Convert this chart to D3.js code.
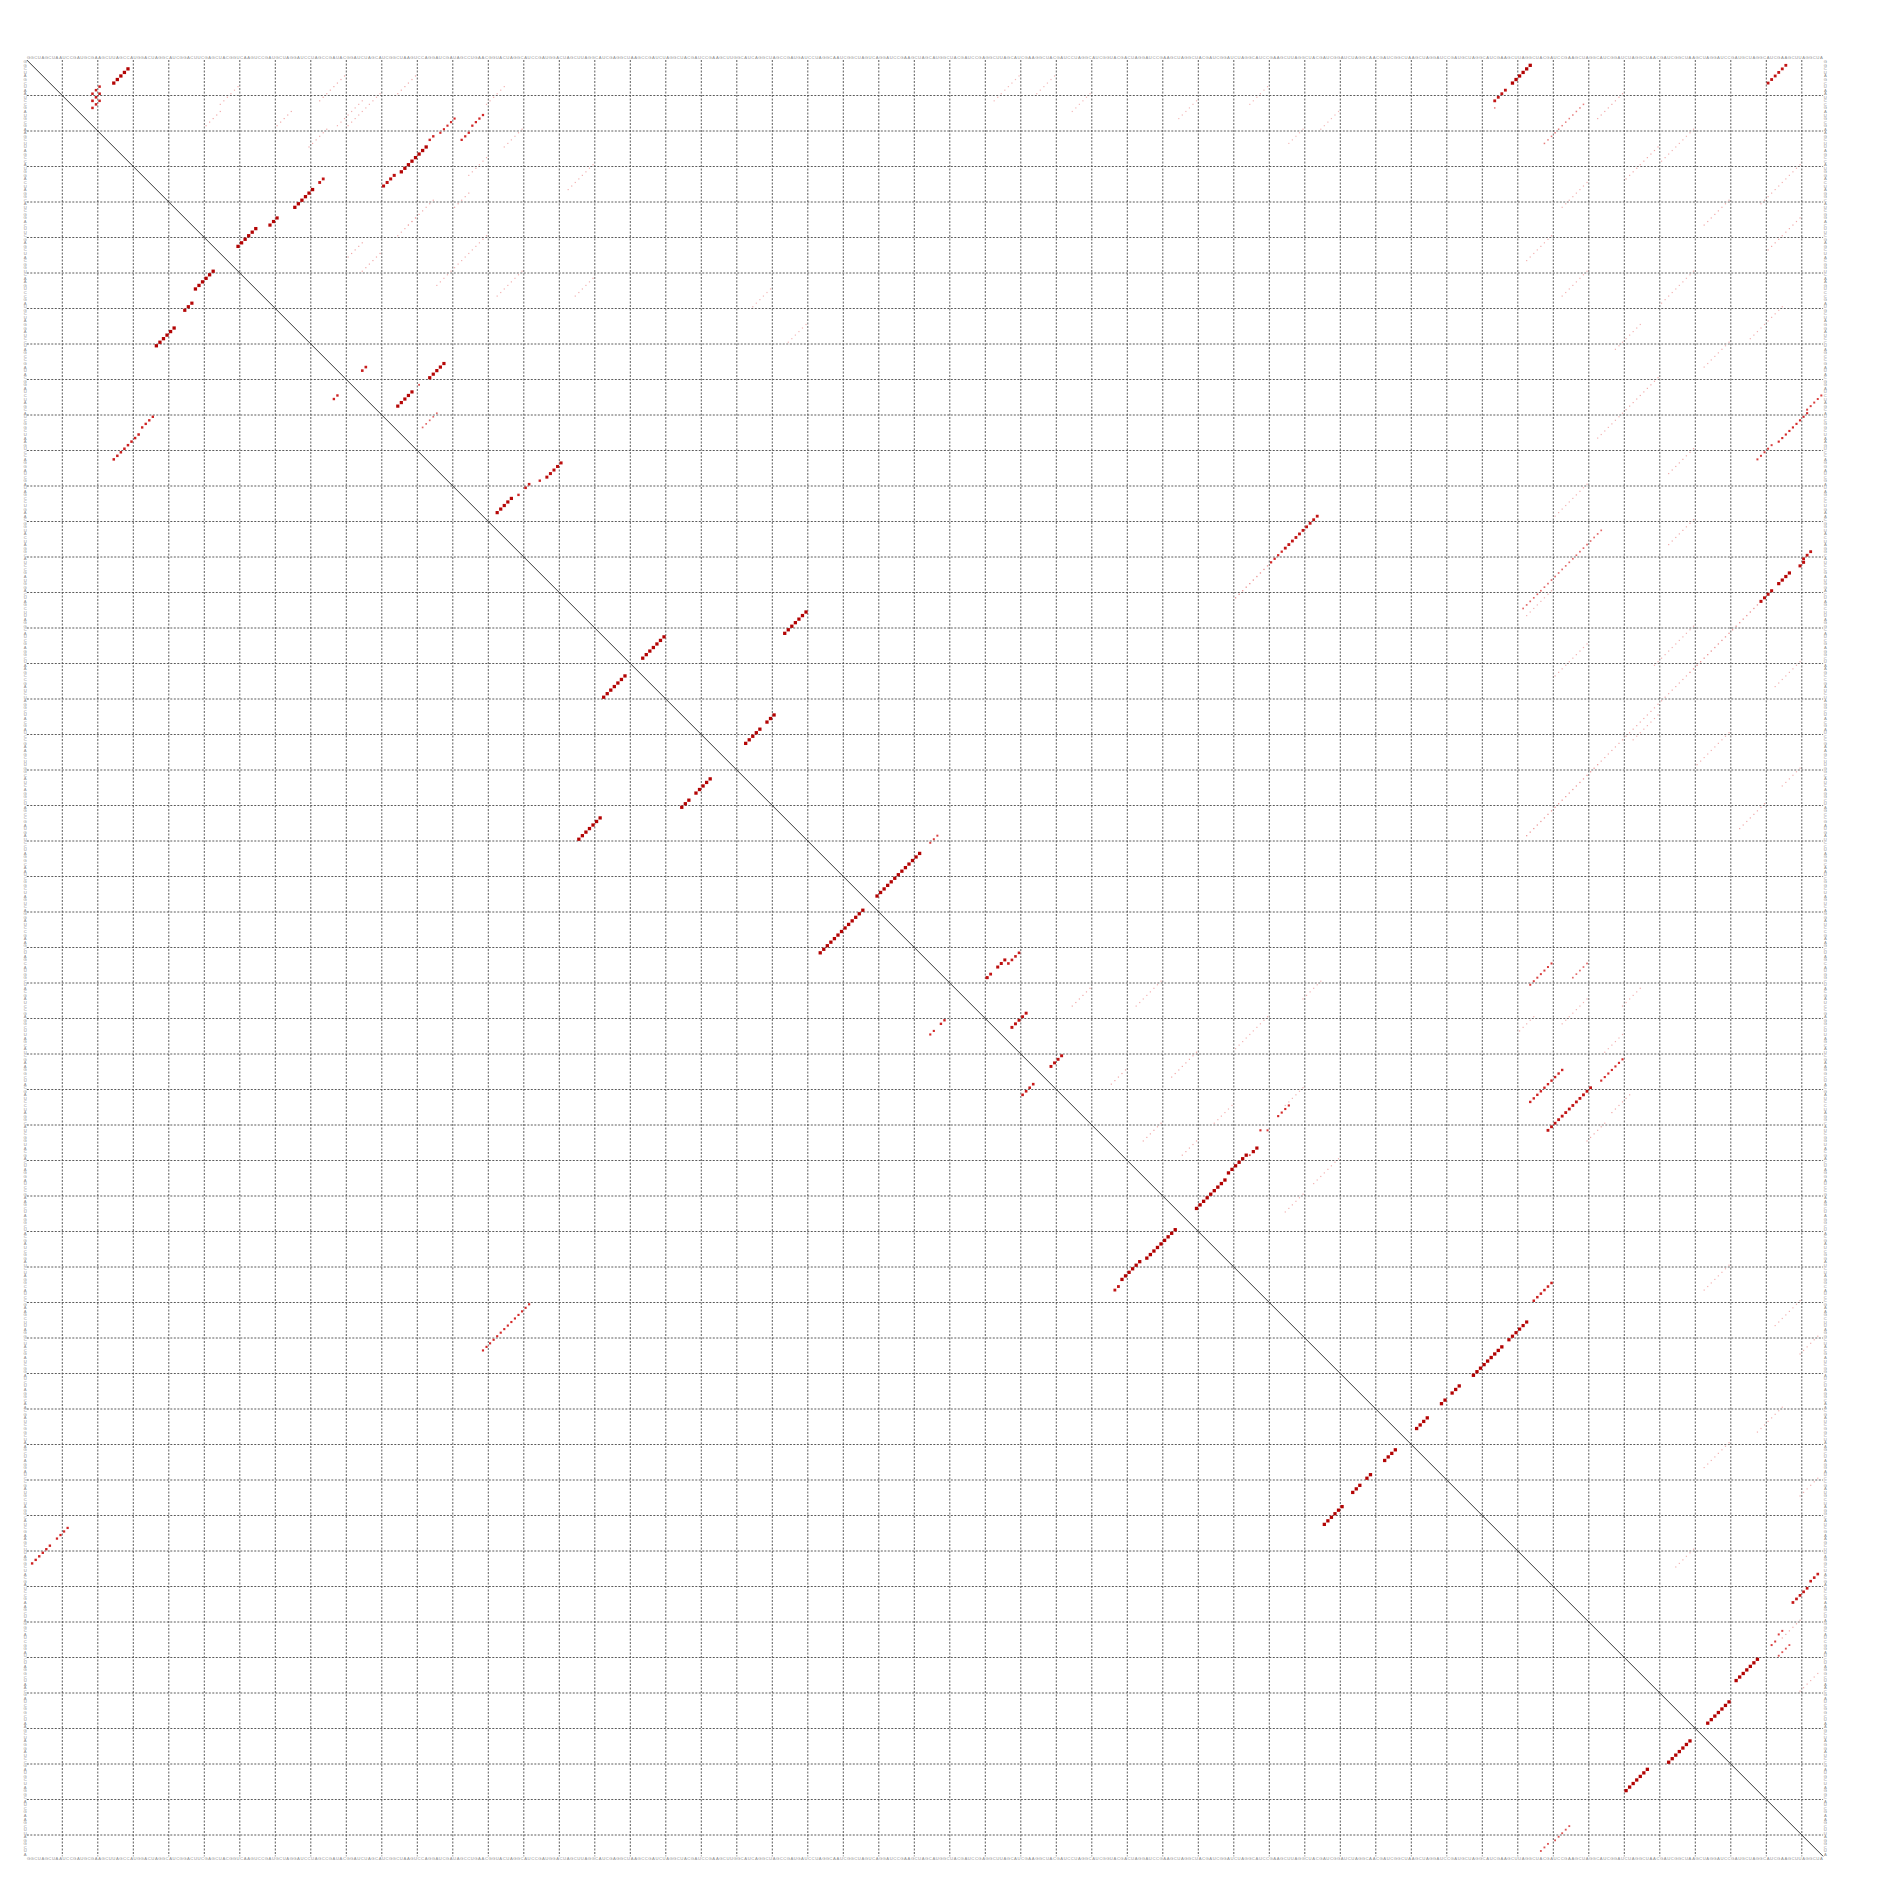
<!DOCTYPE html>
<html><head><meta charset="utf-8">
<script src="https://cdn.jsdelivr.net/npm/d3@7"></script>
<style>body{margin:0;background:#fff}svg{display:block}</style>
</head><body>
<script>
// ---------------- data ----------------
const seqLength = 506;
const sequence =
 "GGCUAGCUAAUCCGAUGCGAAGCUUAGCCAUGGACUAGGCAUCGGACUUCGAGCUACGGUCAAGUCCGAUGCUAGGAUCC" +
 "UAGCCGAUACGGAUCUAGCAUCGGCUAAGUCCAGGAUCGAUAGCCUGAACGGUACUAGGCAUCCGAUGGACUAGCUUAGG" +
 "CAUCGAGGCUAAGCCGAUCUAGGCUACGAUCCGAAGCUUGGCAUCAGGCUAGCCGAUGAUCCUAGGCAAUCGGCUAGUCA" +
 "GGAUCCGAAGCUAGCAUGGCUACGAUCCGAGGCUUAGCAUCGAAGGCUACGAUCCUAGGCAUCGGUACGACUAGGAUCCG" +
 "AAGCUAGGCUACGAUCGGAUCUAGGCAUCCGAAGCUUAGGCUACGAUCGGAUCUAGGCAACGAUCGGCUAAGCUAGGAUC" +
 "CGAUGCUAGGCAUCGAAGCUUAGGCUACGAUCCGAAGCUAGGCAUCGGAUCUAGGCUAACGAUCGGCUAAGCUAGGAUCC" +
 "GAUGCUAGGCAUCGAAGCUUAGGCUA";
const gridStep = 10;

// helices: [i, j, length, probability] -> pairs (i+k, j-k)
const upperHelices = [
  [3,29,5,0.95],
  [8,21,3,0.55],[10,21,3,0.6],[12,21,3,0.55],
  [34,84,2,0.7],[37,81,6,0.95],
  [45,71,3,0.9],[48,65,6,0.95],
  [17,121,5,0.4],[22,115,2,0.5],[25,113,8,0.95],[33,104,4,0.8],
  [16,129,4,0.45],[21,125,3,0.45],
  [86,118,5,0.9],[94,109,5,0.9],[92,111,1,0.3],[100,116,5,0.25],[87,96,2,0.6],
  [114,151,5,0.8],[119,145,1,0.5],[120,142,2,0.6],[123,139,1,0.5],[124,137,5,0.9],
  [163,180,7,0.95],[156,220,7,0.95],[185,211,3,0.95],[189,207,5,0.95],
  [219,257,3,0.35],[224,252,13,0.95],
  [259,271,1,0.7],[258,272,2,0.7],[254,276,3,0.8],[252,280,4,0.6],
  [269,282,5,0.75],[281,292,4,0.75],
  [307,347,2,0.9],[309,345,1,0.3],[309,344,6,0.95],[316,338,9,0.97],
  [295,356,4,0.4],[302,348,1,0.4],[302,350,1,0.35],
  [345,430,6,0.55],[356,423,6,0.9],[363,416,9,0.97],[374,404,3,0.95],[378,400,2,0.95],[383,395,4,0.95],
  [451,488,7,0.95],[463,480,7,0.95],
  [427,505,3,0.6],[431,502,5,0.65],
  [443,495,2,0.35],[446,493,2,0.35],[447,497,4,0.3],
  [129,364,10,0.7],[139,354,4,0.45],[143,350,10,0.15],
  [2,424,6,0.95],[9,417,4,0.7],[14,414,1,0.2],
  [13,439,12,0.2],
  [2,496,6,0.7],
  [95,506,5,0.35],[100,502,9,0.4],[109,492,5,0.35],
  [139,503,3,0.7],[142,501,2,0.8],[145,497,4,0.9],[150,492,4,0.8],
  [154,488,20,0.15],[174,468,25,0.1],[199,443,21,0.14],
  [133,444,23,0.25],
  [255,430,7,0.35],[255,440,5,0.25],
  [285,433,10,0.5],[290,441,13,0.7],[282,450,7,0.4]
];

const lowerHelices = [
  [2,424,6,0.5],[9,417,4,0.45],
  [25,113,8,0.55],[33,104,4,0.5],
  [37,81,6,0.95],[45,71,3,0.9],[48,65,6,0.95],
  [87,96,2,0.5],
  [129,364,14,0.4],
  [156,220,7,0.95],[163,180,7,0.95],[185,211,3,0.95],[189,207,5,0.95],
  [224,252,13,0.95],
  [258,272,2,0.5],[255,275,2,0.4],
  [281,292,4,0.6],
  [307,347,2,0.7],[309,344,6,0.95],[316,338,9,0.97],
  [366,413,6,0.95],[374,404,3,0.95],[378,400,2,0.95],[383,395,4,0.95],
  [451,488,7,0.95],[463,480,7,0.95],
  [427,505,3,0.3],[431,502,5,0.3]
];

// faint background pairs (upper triangle)
const faintHelices = [
  [5,90,8,0.1],[10,100,10,0.09],[40,115,8,0.1],[50,130,10,0.09],[55,100,6,0.1],
  [60,140,8,0.09],[20,140,6,0.09],[30,160,8,0.09],[8,60,6,0.09],[15,55,5,0.1],
  [5,110,6,0.1],[12,95,8,0.09],[20,85,6,0.1],[28,130,6,0.09],[38,125,5,0.1],
  [45,110,6,0.09],[52,95,5,0.1],[8,135,6,0.09],[60,120,5,0.09],[15,75,5,0.1],
  [62,160,6,0.09],
  [20,470,10,0.09],[30,500,12,0.09],[40,480,8,0.1],[60,470,10,0.09],[70,495,10,0.09],
  [110,470,8,0.1],[160,470,12,0.09],[170,500,8,0.09],[190,480,10,0.09],[200,500,6,0.09],
  [60,440,8,0.09],[90,460,10,0.1],[120,440,10,0.09],[150,430,8,0.09],
  [10,450,8,0.1],[25,460,10,0.1],[35,440,8,0.09],[45,500,10,0.1],[80,480,8,0.09],
  [100,450,8,0.09],[130,470,8,0.1],[165,440,10,0.09],[185,460,8,0.09],[210,490,8,0.1],
  [50,430,8,0.09],[75,455,8,0.09],
  [260,320,8,0.09],[270,350,10,0.09],[280,330,8,0.1],[290,360,6,0.09],[300,320,6,0.1],[310,370,8,0.09],
  [262,300,6,0.1],[285,310,5,0.1],[295,340,6,0.09],[305,330,5,0.1],[320,360,6,0.09],[260,365,6,0.09],
  [265,440,8,0.09],[275,450,6,0.09],[300,445,6,0.1],[262,455,6,0.09],[292,452,6,0.1],[270,425,5,0.09],
  [350,500,8,0.09],[380,495,8,0.09],[400,505,6,0.09],[440,500,6,0.1],
  [340,480,8,0.09],[360,505,6,0.09],[390,480,8,0.09],[420,470,6,0.09],[455,505,6,0.09],
  [5,280,8,0.08],[10,300,6,0.08],[8,350,6,0.08],[15,370,6,0.08],
  [5,290,6,0.08],[12,330,6,0.08],[20,360,5,0.08],
  [65,210,6,0.08],[75,220,6,0.08]
];

// ---------------- drawing ----------------
const W = 1883, H = 1879;
const x0 = 26.8, y0 = 60, side = 1796.3;
const x = d3.scaleLinear().domain([0, seqLength]).range([x0, x0 + side]);
const y = d3.scaleLinear().domain([0, seqLength]).range([y0, y0 + side]);
const cell = side / seqLength;

const svg = d3.select("body").append("svg").attr("width", W).attr("height", H);

// grid
const ticks = d3.range(gridStep, seqLength, gridStep);
const grid = svg.append("g").attr("stroke", "#4a4a4a").attr("stroke-width", 0.9)
  .attr("stroke-dasharray", "2,1.5").attr("fill", "none");
grid.selectAll(".v").data(ticks).join("line").attr("class", "v")
  .attr("x1", d => x(d)).attr("x2", d => x(d)).attr("y1", y(0)).attr("y2", y(seqLength));
grid.selectAll(".h").data(ticks).join("line").attr("class", "h")
  .attr("y1", d => y(d)).attr("y2", d => y(d)).attr("x1", x(0)).attr("x2", x(seqLength));

// diagonal
svg.append("line").attr("x1", x(0)).attr("y1", y(0)).attr("x2", x(seqLength)).attr("y2", y(seqLength))
  .attr("stroke", "#222").attr("stroke-width", 0.9);

// sequence letters on four sides
const letters = sequence.split("").slice(0, seqLength).map((c, k) => ({c, k}));
const lab = svg.append("g").attr("font-family", "Liberation Sans, Arial, sans-serif")
  .attr("font-size", 4.2).attr("fill", "#8a8a8a").attr("text-anchor", "middle");
lab.selectAll(".t").data(letters).join("text").attr("class", "t")
  .attr("x", d => x(d.k + 0.5)).attr("y", y(0) - 1).text(d => d.c);
lab.selectAll(".b").data(letters).join("text").attr("class", "b")
  .attr("x", d => x(d.k + 0.5)).attr("y", y(seqLength) + 3.8).text(d => d.c);
lab.selectAll(".l").data(letters).join("text").attr("class", "l")
  .attr("x", x(0) - 1.6).attr("y", d => y(d.k + 0.5) + 1.5).text(d => d.c);
lab.selectAll(".r").data(letters).join("text").attr("class", "r")
  .attr("x", x(seqLength) + 2.2).attr("y", d => y(d.k + 0.5) + 1.5).text(d => d.c);

// expand helices
function expand(list, lower) {
  const out = [];
  list.forEach(([i, j, len, p]) => {
    for (let k = 0; k < len; k++) {
      const a = i + k, b = j - k;
      if (a >= b) continue;
      out.push(lower ? {col: a, row: b, p} : {col: b, row: a, p});
    }
  });
  return out;
}
const color = d3.scaleLinear().domain([0, 0.1, 0.4, 1])
  .range(["#ffffff", "#f0a8a8", "#d42a2a", "#b00000"]).clamp(true);
const sizeOf = p => Math.max(1.2, cell * 0.95 * Math.sqrt(p));

const dots = [
  ...expand(faintHelices, false),
  ...expand(upperHelices, false),
  ...expand(lowerHelices, true)
];
svg.append("g").selectAll("rect").data(dots).join("rect")
  .attr("x", d => x(d.col - 0.5) - sizeOf(d.p) / 2)
  .attr("y", d => y(d.row - 0.5) - sizeOf(d.p) / 2)
  .attr("width", d => sizeOf(d.p)).attr("height", d => sizeOf(d.p))
  .attr("fill", d => color(d.p));
</script>
</body></html>
